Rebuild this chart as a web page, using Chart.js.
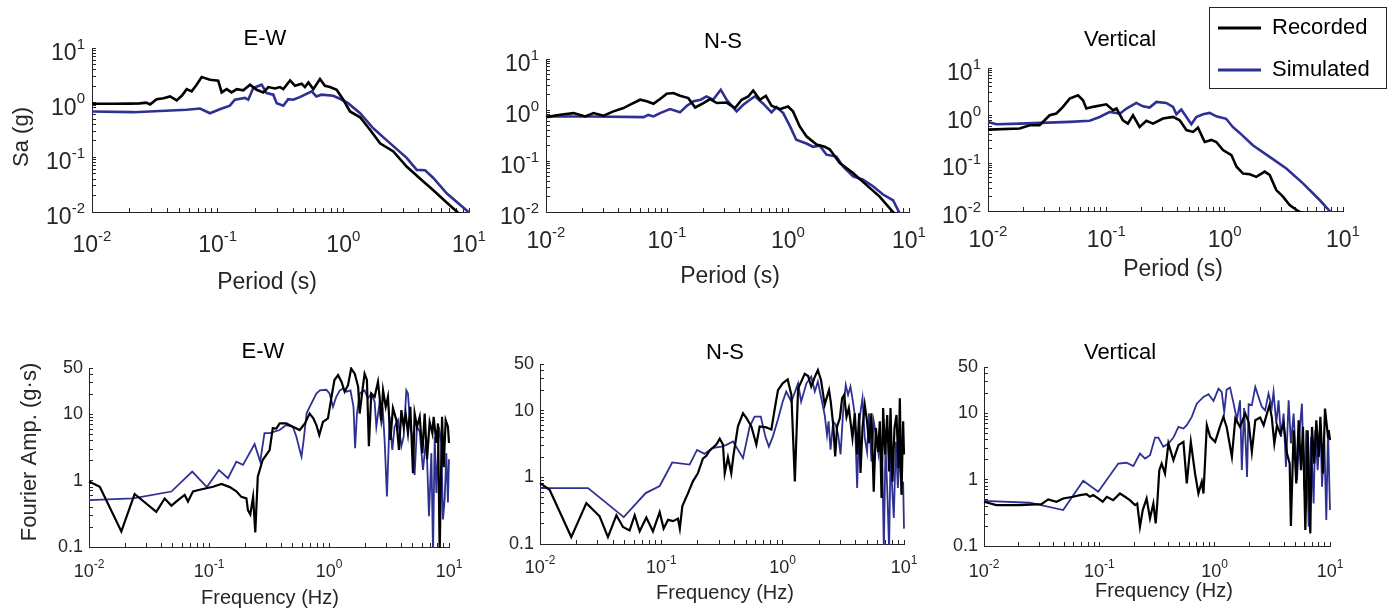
<!DOCTYPE html>
<html>
<head>
<meta charset="utf-8">
<script src="https://cdn.jsdelivr.net/npm/chart.js@4.4.0/dist/chart.umd.min.js"></script>
<style>
  html, body { margin: 0; padding: 0; background: #fff; }
  #wrap { position: relative; width: 1392px; height: 613px; }
  #wrap canvas { position: absolute; left: 0; top: 0; }
</style>
</head>
<body>
<div id="wrap">
  <canvas id="saEw" width="1392" height="613"></canvas>
  <canvas id="saNs" width="1392" height="613"></canvas>
  <canvas id="saVt" width="1392" height="613"></canvas>
  <canvas id="faEw" width="1392" height="613"></canvas>
  <canvas id="faNs" width="1392" height="613"></canvas>
  <canvas id="faVt" width="1392" height="613"></canvas>
</div>
<script>
// axis ticks
const decadeTicks = [0.01, 0.1, 1, 10];
const decadeBase = '10';
const decadeExps = ['-2', '-1', '0', '1'];
const ampTicks = [0.1, 1, 10, 50];
const ampLabels = ['0.1', '1', '10', '50'];
const seriesLabels = ['Recorded', 'Simulated'];

// response spectra: [period (s), Sa (g)]
const saEwRecorded = [[0.01,0.955],[0.015,0.955],[0.02,0.96],[0.024,0.97],[0.027,1.0],[0.029,0.93],[0.0327,1.16],[0.037,1.2],[0.0418,1.3],[0.0472,1.1],[0.052,1.35],[0.0567,1.77],[0.0621,1.61],[0.068,2.13],[0.0746,2.94],[0.0869,2.63],[0.101,2.52],[0.1076,1.54],[0.118,1.77],[0.129,1.54],[0.142,1.77],[0.16,1.68],[0.181,2.13],[0.204,1.72],[0.231,1.54],[0.253,1.93],[0.286,1.82],[0.313,1.93],[0.333,1.77],[0.377,2.55],[0.412,2.04],[0.466,2.22],[0.495,1.93],[0.527,2.35],[0.577,1.77],[0.652,2.7],[0.714,2.04],[0.783,1.93],[0.885,1.72],[1.0,1.13],[1.13,0.69],[1.36,0.54],[1.63,0.32],[1.96,0.18],[2.5,0.128],[3.19,0.068],[4.07,0.041],[5.2,0.025],[6.64,0.0149],[8.07,0.01],[9.0,0.008]];
const saEwSimulated = [[0.01,0.69],[0.0213,0.67],[0.0567,0.74],[0.0723,0.78],[0.0869,0.64],[0.104,0.76],[0.125,0.88],[0.137,1.13],[0.165,1.22],[0.175,1.13],[0.192,1.85],[0.224,2.13],[0.245,1.5],[0.277,1.4],[0.295,0.98],[0.333,0.88],[0.364,1.16],[0.4,1.13],[0.45,1.26],[0.51,1.45],[0.56,1.61],[0.61,1.3],[0.67,1.4],[0.83,1.34],[0.94,1.18],[1.09,0.98],[1.36,0.64],[1.73,0.34],[2.36,0.18],[3.19,0.098],[3.84,0.059],[4.47,0.058],[5.2,0.042],[6.64,0.022],[9.9,0.01]];
const saNsRecorded = [[0.01,0.724],[0.0131,0.805],[0.0169,0.869],[0.0211,0.748],[0.0247,0.869],[0.0299,0.774],[0.0361,0.94],[0.0437,1.09],[0.0496,1.27],[0.06,1.59],[0.068,1.48],[0.0773,1.33],[0.0877,1.64],[0.0996,2.08],[0.113,2.15],[0.128,1.9],[0.15,1.71],[0.171,1.12],[0.2,1.37],[0.227,1.64],[0.258,1.37],[0.311,1.4],[0.365,1.09],[0.414,1.59],[0.47,1.85],[0.516,2.41],[0.586,1.59],[0.656,1.9],[0.731,1.21],[0.857,1.04],[1.0,1.17],[1.1,0.94],[1.25,0.476],[1.42,0.305],[1.72,0.21],[2.01,0.19],[2.21,0.17],[2.68,0.091],[3.45,0.058],[4.44,0.034],[5.72,0.02],[7.38,0.01],[8.0,0.0085]];
const saNsSimulated = [[0.01,0.748],[0.0247,0.748],[0.0643,0.724],[0.07,0.8],[0.0773,0.748],[0.0877,0.869],[0.106,1.04],[0.128,0.9],[0.146,1.21],[0.166,1.48],[0.19,1.59],[0.212,1.85],[0.24,1.59],[0.278,2.5],[0.311,1.59],[0.376,0.94],[0.427,1.27],[0.485,1.59],[0.533,1.85],[0.624,1.33],[0.731,0.9],[0.804,1.14],[0.913,0.869],[1.04,0.476],[1.17,0.26],[1.42,0.22],[1.61,0.19],[1.83,0.2],[2.08,0.133],[2.51,0.122],[2.85,0.078],[3.45,0.05],[4.17,0.043],[5.04,0.032],[6.1,0.022],[7.38,0.017],[8.27,0.01],[9.0,0.008]];
const saVtRecorded = [[0.01,0.51],[0.0185,0.537],[0.0225,0.63],[0.0273,0.63],[0.0332,1.02],[0.0378,1.11],[0.043,1.53],[0.049,2.28],[0.0576,2.68],[0.0635,2.1],[0.0678,1.41],[0.0772,1.53],[0.0907,1.65],[0.1,1.73],[0.114,1.3],[0.122,1.41],[0.138,0.8],[0.152,0.68],[0.168,1.02],[0.191,0.58],[0.218,0.78],[0.248,0.68],[0.301,0.87],[0.366,0.94],[0.417,0.8],[0.475,0.5],[0.54,0.457],[0.595,0.56],[0.678,0.28],[0.771,0.31],[0.85,0.28],[0.968,0.19],[1.14,0.149],[1.26,0.085],[1.43,0.061],[1.63,0.059],[1.85,0.052],[2.18,0.067],[2.4,0.057],[2.73,0.0275],[3.11,0.02],[3.54,0.0133],[4.17,0.01],[4.5,0.009]];
const saVtSimulated = [[0.01,0.74],[0.0118,0.66],[0.0185,0.68],[0.049,0.74],[0.0723,0.78],[0.0879,0.94],[0.107,1.2],[0.13,1.1],[0.148,1.41],[0.179,1.85],[0.204,1.57],[0.232,1.48],[0.265,1.94],[0.321,1.85],[0.366,1.53],[0.391,1.07],[0.43,1.34],[0.475,0.94],[0.523,0.66],[0.576,0.94],[0.656,1.07],[0.747,1.14],[0.85,0.97],[1.03,0.86],[1.17,0.58],[1.34,0.435],[1.73,0.24],[2.4,0.137],[3.32,0.078],[4.59,0.038],[6.35,0.017],[7.71,0.01],[8.5,0.0085]];

// Fourier amplitude spectra: [frequency (Hz), amplitude (g·s)]
const faEwRecorded = [[0.01,0.97],[0.0123,0.81],[0.0186,0.172],[0.024,0.63],[0.0364,0.34],[0.0427,0.54],[0.0486,0.42],[0.0552,0.51],[0.0627,0.61],[0.0668,0.485],[0.0736,0.69],[0.0836,0.73],[0.095,0.77],[0.108,0.81],[0.127,0.89],[0.149,0.8],[0.169,0.69],[0.186,0.57],[0.205,0.54],[0.211,0.36],[0.221,0.31],[0.233,0.57],[0.243,0.166],[0.255,1.15],[0.28,2.05],[0.32,2.9],[0.34,6.2],[0.364,6.1],[0.388,7.3],[0.44,7.3],[0.5,6.5],[0.57,5.8],[0.63,7.3],[0.69,10.3],[0.74,8.7],[0.785,6.9],[0.83,4.9],[0.89,7.7],[0.98,8.7],[1.05,18.4],[1.11,33],[1.19,39],[1.27,31],[1.35,22],[1.44,27.5],[1.53,49],[1.64,41],[1.75,26],[1.8,10.3],[1.9,23],[1.98,41],[2.07,33],[2.15,3.3],[2.25,20.6],[2.4,18.4],[2.56,31],[2.64,18.4],[2.73,8.2],[2.82,23],[2.97,13],[3.1,18.4],[3.25,4.1],[3.41,12.4],[3.64,8.2],[3.83,2.9],[4.01,11.6],[4.19,6.5],[4.35,10.3],[4.55,5.2],[4.76,13],[5.01,1.3],[5.17,10.3],[5.41,6.5],[5.7,9.2],[6.0,2.6],[6.27,10.3],[6.56,2.1],[6.9,7.7],[7.27,5.2],[7.45,9.2],[7.85,3.7],[8.1,7.3],[8.36,0.08],[8.75,9.2],[9.03,1.6],[9.38,8.2],[9.8,6.5],[10,3.7]];
const faEwSimulated = [[0.01,0.51],[0.0233,0.54],[0.0486,0.686],[0.0725,1.37],[0.096,0.8],[0.121,1.45],[0.144,1.09],[0.169,1.94],[0.192,1.73],[0.24,3.56],[0.267,1.94],[0.29,5.2],[0.32,5.2],[0.388,5.8],[0.44,6.9],[0.5,6.5],[0.535,4.6],[0.57,2.9],[0.59,2.3],[0.615,4.1],[0.65,10.3],[0.69,13],[0.785,20.6],[0.84,23],[0.95,23.5],[1.01,20.6],[1.08,13],[1.15,18.4],[1.23,23],[1.31,24.5],[1.4,22],[1.51,23],[1.6,13],[1.65,3.1],[1.71,10.3],[1.8,20.6],[1.98,23],[2.11,17.4],[2.25,20.6],[2.4,15.5],[2.48,6.5],[2.61,13],[2.73,7.3],[2.82,10.3],[2.91,3.9],[3.04,0.58],[3.2,9.2],[3.37,2.9],[3.52,6.5],[3.76,8.2],[4.01,3.3],[4.19,4.6],[4.41,23],[4.55,20.6],[4.76,6.5],[4.95,4.6],[5.17,1.22],[5.41,6.5],[5.7,5.5],[6.07,1.45],[6.47,4.6],[6.81,0.29],[7.13,2.6],[7.36,0.08],[7.6,4.6],[7.85,0.65],[8.26,6.5],[8.63,3.7],[8.91,0.26],[9.2,0.52],[9.5,2.6],[9.8,0.47],[10,2.1]];
const faNsRecorded = [[0.01,0.82],[0.012,0.65],[0.0181,0.127],[0.0241,0.41],[0.031,0.26],[0.0363,0.127],[0.0426,0.27],[0.0483,0.18],[0.0548,0.16],[0.0603,0.27],[0.0663,0.155],[0.0752,0.25],[0.0853,0.155],[0.0969,0.3],[0.1045,0.17],[0.1135,0.23],[0.125,0.22],[0.137,0.24],[0.142,0.17],[0.149,0.37],[0.166,0.58],[0.182,0.87],[0.2,1.15],[0.22,1.9],[0.235,2.1],[0.25,2.5],[0.284,3.1],[0.303,3.8],[0.322,3.1],[0.333,1.15],[0.354,2.0],[0.377,1.15],[0.394,2.2],[0.428,5.8],[0.471,9.1],[0.502,7.8],[0.552,5.8],[0.607,3.1],[0.646,5.8],[0.733,5.6],[0.807,5.2],[0.859,10.5],[0.915,20.3],[1.0,25.7],[1.1,29.4],[1.18,17.2],[1.26,0.87],[1.34,21.5],[1.42,27],[1.52,35.5],[1.62,33],[1.72,23],[1.84,32],[1.95,40.6],[2.07,28.8],[2.22,12.2],[2.32,16.2],[2.41,20.4],[2.49,13.6],[2.61,6.1],[2.71,2.05],[2.81,5.8],[2.96,7.7],[3.09,15.3],[3.21,17.2],[3.36,8.1],[3.51,10.9],[3.62,6.9],[3.76,3.9],[3.93,9.1],[4.11,2.2],[4.27,9.1],[4.38,1.16],[4.55,5.5],[4.75,12.2],[4.96,6.9],[5.15,3.25],[5.39,9.1],[5.63,0.61],[5.86,5.5],[6.12,2.4],[6.32,6.9],[6.53,0.49],[6.73,10.9],[7.0,2.2],[7.27,8.6],[7.54,1.22],[7.74,10.9],[8.04,0.86],[8.35,5.5],[8.67,8.6],[9.01,1.37],[9.24,15.3],[9.53,0.55],[9.84,6.9],[10,2.2]];
const faNsSimulated = [[0.01,0.69],[0.0249,0.69],[0.049,0.253],[0.0743,0.58],[0.0969,0.74],[0.123,1.67],[0.171,1.55],[0.197,2.58],[0.227,2.25],[0.263,2.73],[0.312,2.89],[0.344,3.06],[0.39,3.44],[0.471,1.94],[0.535,5.77],[0.587,8.14],[0.66,8.14],[0.72,4.08],[0.77,2.89],[0.83,4.08],[0.915,7.4],[1.0,13.6],[1.07,19.3],[1.18,13.6],[1.34,25.7],[1.42,13.6],[1.57,25.7],[1.72,32.3],[1.84,19.3],[1.95,27.2],[2.22,8.6],[2.32,4.3],[2.39,6.9],[2.48,2.6],[2.61,6.9],[2.74,6.1],[2.87,4.3],[3.0,2.2],[3.15,9.7],[3.31,24.3],[3.46,17.2],[3.62,22.9],[3.76,15.3],[3.93,8.6],[4.11,0.69],[4.27,6.9],[4.55,15.3],[4.75,3.9],[4.96,2.4],[5.15,9.1],[5.39,1.73],[5.63,6.9],[5.93,3.9],[6.17,2.2],[6.4,3.9],[6.65,1.22],[6.82,0.08],[7.04,3.1],[7.27,0.69],[7.54,0.08],[7.74,2.2],[8.04,0.55],[8.24,0.245],[8.57,3.4],[8.9,0.69],[9.24,2.2],[9.6,0.55],[9.84,0.86],[10,0.17]];
const faVtRecorded = [[0.01,0.465],[0.0128,0.414],[0.0204,0.414],[0.0315,0.428],[0.036,0.504],[0.0425,0.465],[0.0486,0.521],[0.0593,0.552],[0.0678,0.585],[0.0775,0.605],[0.0828,0.552],[0.0885,0.585],[0.0978,0.521],[0.107,0.465],[0.116,0.552],[0.132,0.492],[0.151,0.619],[0.167,0.552],[0.184,0.492],[0.204,0.414],[0.213,0.438],[0.225,0.195],[0.238,0.348],[0.257,0.521],[0.275,0.261],[0.294,0.438],[0.308,0.219],[0.318,0.438],[0.331,1.39],[0.347,1.75],[0.371,1.24],[0.397,3.51],[0.439,1.97],[0.485,3.31],[0.536,3.72],[0.573,0.877],[0.621,3.72],[0.676,1.24],[0.723,0.619],[0.773,0.929],[0.8,0.619],[0.855,6.62],[0.914,4.42],[1.01,3.72],[1.11,6.25],[1.19,8.84],[1.27,6.25],[1.41,2.21],[1.51,8.34],[1.66,6.25],[1.84,9.93],[1.97,7.43],[2.1,2.63],[2.25,7.87],[2.48,8.63],[2.66,6.62],[2.84,9.93],[2.99,13.3],[3.13,8.63],[3.29,3.51],[3.47,6.62],[3.7,4.95],[3.96,7.01],[4.24,2.48],[4.47,1.75],[4.58,0.2],[4.84,5.57],[5.1,0.877],[5.35,7.87],[5.6,1.39],[5.83,6.25],[6.11,0.174],[6.4,5.57],[6.75,0.155],[6.98,6.25],[7.31,1.75],[7.61,7.87],[7.98,2.21],[8.25,8.84],[8.7,1.24],[9.05,11.8],[9.61,4.42],[9.74,5.57],[10,3.94]];
const faVtSimulated = [[0.01,0.48],[0.0249,0.449],[0.0486,0.348],[0.0725,0.96],[0.0978,0.656],[0.146,1.75],[0.172,1.8],[0.197,1.6],[0.225,2.48],[0.249,2.08],[0.275,2.34],[0.304,4.32],[0.325,4.32],[0.359,3.13],[0.397,3.51],[0.439,4.32],[0.485,6.25],[0.536,5.9],[0.573,6.62],[0.633,8.84],[0.699,14],[0.8,17.7],[0.884,19.4],[0.977,15.4],[1.08,23.6],[1.15,21],[1.21,10.5],[1.27,22.8],[1.36,24.5],[1.46,14],[1.56,8],[1.66,15.7],[1.72,1.4],[1.8,12],[1.91,1.1],[1.97,13.7],[2.1,13.3],[2.25,25],[2.4,17.7],[2.57,12.5],[2.74,11.1],[2.93,19.9],[3.13,12.5],[3.24,21],[3.42,7],[3.58,15.7],[3.76,4.42],[3.96,9.93],[4.15,1.56],[4.38,15.7],[4.58,3.51],[4.84,9.93],[5.17,0.98],[5.46,5.57],[5.71,14],[5.99,0.7],[6.23,5.57],[6.53,0.195],[6.84,4.42],[7.21,0.438],[7.46,5.57],[7.82,1.39],[8.25,7.01],[8.53,0.78],[8.93,3.94],[9.29,0.246],[9.61,5.57],[10,0.35]];

const FONT = "'Liberation Sans', Arial, sans-serif";
const INK = '#262626';
const REC_COLOR = '#000000';
const SIM_COLOR = '#2e3192';
const Y_AXIS_W = 80;
const X_AXIS_H = 60;

function toXY(pairs) {
  return pairs.map(p => ({ x: p[0], y: p[1] }));
}

function labelFor(values, labels) {
  return v => {
    const i = values.findIndex(t => Math.abs(v - t) < t * 1e-6);
    return i >= 0 ? labels[i] : '';
  };
}
const noLabel = () => '';

// drop the 1.5x ticks so only 1..9 per decade remain (minor ticks like MATLAB)
function keepIntegerMantissa(scale) {
  scale.ticks = scale.ticks.filter(t => {
    const m = t.value / Math.pow(10, Math.floor(Math.log10(t.value) + 1e-9));
    return Math.abs(m - Math.round(m)) < 1e-6;
  });
}

// "10" with a raised exponent, placed on the scale's own pixel for the value
function drawPower(ctx, exp, x, baseline, size, align) {
  const sup = Math.round(size * 0.65);
  ctx.font = size + 'px ' + FONT;
  const wb = ctx.measureText(decadeBase).width;
  ctx.font = sup + 'px ' + FONT;
  const we = ctx.measureText(exp).width;
  const x0 = align === 'center' ? x - (wb + we) / 2 : x - wb - we;
  ctx.textAlign = 'left';
  ctx.textBaseline = 'alphabetic';
  ctx.font = size + 'px ' + FONT;
  ctx.fillText(decadeBase, x0, baseline);
  ctx.font = sup + 'px ' + FONT;
  ctx.fillText(exp, x0 + wb, baseline - size * 0.5);
}

// titles, axis labels, power-of-ten tick labels and legend
const panelText = {
  id: 'panelText',
  afterDraw(chart, args, opts) {
    const ctx = chart.ctx;
    const area = chart.chartArea;
    ctx.save();
    ctx.fillStyle = INK;
    if (opts.xPow) {
      decadeTicks.forEach((v, i) => {
        drawPower(ctx, decadeExps[i], chart.scales.x.getPixelForValue(v),
          area.bottom + opts.xPow.base, opts.xPow.size, 'center');
      });
    }
    if (opts.yPow) {
      decadeTicks.forEach((v, i) => {
        drawPower(ctx, decadeExps[i], area.left - 7,
          chart.scales.y.getPixelForValue(v) + opts.yPow.base, opts.yPow.size, 'right');
      });
    }
    ctx.restore();
    (opts.items || []).forEach(it => {
      ctx.save();
      ctx.font = it.size + 'px ' + FONT;
      ctx.fillStyle = it.color || INK;
      ctx.textAlign = 'center';
      ctx.textBaseline = 'middle';
      ctx.translate(it.x, it.y);
      if (it.rotate) ctx.rotate(-Math.PI / 2);
      ctx.fillText(it.text, 0, 0);
      ctx.restore();
    });
    if (opts.legend) {
      const lg = opts.legend;
      ctx.save();
      ctx.fillStyle = '#fff';
      ctx.fillRect(lg.x, lg.y, lg.w, lg.h);
      ctx.strokeStyle = INK;
      ctx.lineWidth = 1;
      ctx.strokeRect(lg.x + 0.5, lg.y + 0.5, lg.w, lg.h);
      chart.data.datasets.forEach((ds, i) => {
        const y = lg.rows[i];
        ctx.strokeStyle = ds.borderColor;
        ctx.lineWidth = 3;
        ctx.beginPath();
        ctx.moveTo(lg.x + 9, y);
        ctx.lineTo(lg.x + 52, y);
        ctx.stroke();
        ctx.fillStyle = '#000';
        ctx.font = lg.size + 'px ' + FONT;
        ctx.textAlign = 'left';
        ctx.textBaseline = 'middle';
        ctx.fillText(ds.label, lg.x + 63, y);
      });
      ctx.restore();
    }
  }
};

function makePanel(id, box, rec, sim, cfg) {
  new Chart(document.getElementById(id), {
    type: 'line',
    data: {
      datasets: [
        { label: seriesLabels[0], data: toXY(rec), borderColor: REC_COLOR, borderWidth: cfg.recWidth,
          pointRadius: 0, tension: 0, clip: 1 },
        { label: seriesLabels[1], data: toXY(sim), borderColor: SIM_COLOR, borderWidth: cfg.simWidth,
          pointRadius: 0, tension: 0, clip: 1 }
      ]
    },
    options: {
      responsive: false,
      animation: false,
      devicePixelRatio: 1,
      events: [],
      layout: {
        padding: {
          left: box.left - Y_AXIS_W,
          top: box.top,
          right: 1392 - box.right,
          bottom: 613 - box.bottom - X_AXIS_H
        }
      },
      scales: {
        x: {
          type: 'logarithmic',
          min: 0.01, max: 10,
          afterBuildTicks: keepIntegerMantissa,
          afterFit: s => { s.height = X_AXIS_H; },
          grid: { drawOnChartArea: false, drawTicks: true, tickLength: -4, color: INK },
          border: { display: true, color: INK, width: 1 },
          ticks: { autoSkip: false, maxRotation: 0, minRotation: 0, callback: noLabel }
        },
        y: {
          type: 'logarithmic',
          min: cfg.yMin, max: cfg.yMax,
          afterBuildTicks: keepIntegerMantissa,
          afterFit: s => { s.width = Y_AXIS_W; },
          grid: { drawOnChartArea: false, drawTicks: true, tickLength: -4, color: INK },
          border: { display: true, color: INK, width: 1 },
          ticks: {
            autoSkip: false,
            padding: 10, color: INK,
            font: { family: FONT, size: cfg.tickSize },
            callback: cfg.yPow ? noLabel : labelFor(ampTicks, ampLabels)
          }
        }
      },
      plugins: {
        legend: { display: false },
        tooltip: { enabled: false },
        panelText: {
          items: cfg.texts,
          legend: cfg.legend || null,
          xPow: { base: cfg.xBase, size: cfg.tickSize },
          yPow: cfg.yPow ? { base: 12, size: cfg.tickSize } : null
        }
      }
    },
    plugins: [panelText]
  });
}

const saRow = { yMin: 0.01, yMax: 10, yPow: true, tickSize: 23, recWidth: 2.6, simWidth: 2.6 };
const faRow = { yMin: 0.1, yMax: 50, yPow: false, tickSize: 18, recWidth: 2.2, simWidth: 1.8 };

makePanel('saEw', { left: 92, right: 469, top: 48, bottom: 212 }, saEwRecorded, saEwSimulated,
  Object.assign({}, saRow, { xBase: 40, texts: [
    { text: 'E-W', x: 265, y: 39, size: 22, color: '#000' },
    { text: 'Period (s)', x: 267, y: 283, size: 23 },
    { text: 'Sa (g)', x: 22, y: 137, size: 22, rotate: true }
  ] }));

makePanel('saNs', { left: 546, right: 909, top: 59, bottom: 212 }, saNsRecorded, saNsSimulated,
  Object.assign({}, saRow, { xBase: 36, texts: [
    { text: 'N-S', x: 723, y: 42, size: 22, color: '#000' },
    { text: 'Period (s)', x: 730, y: 277, size: 23 }
  ] }));

makePanel('saVt', { left: 988, right: 1343, top: 68, bottom: 211 }, saVtRecorded, saVtSimulated,
  Object.assign({}, saRow, { xBase: 36, texts: [
    { text: 'Vertical', x: 1120, y: 40, size: 22, color: '#000' },
    { text: 'Period (s)', x: 1173, y: 270, size: 23 }
  ], legend: { x: 1209, y: 7, w: 177, h: 81, rows: [28, 70], size: 22 } }));

makePanel('faEw', { left: 89, right: 449, top: 368, bottom: 547 }, faEwRecorded, faEwSimulated,
  Object.assign({}, faRow, { xBase: 30, texts: [
    { text: 'E-W', x: 263, y: 352, size: 22, color: '#000' },
    { text: 'Frequency (Hz)', x: 270, y: 598, size: 20 },
    { text: 'Fourier Amp. (g·s)', x: 30, y: 452, size: 22, rotate: true }
  ] }));

makePanel('faNs', { left: 540, right: 904, top: 364, bottom: 544 }, faNsRecorded, faNsSimulated,
  Object.assign({}, faRow, { xBase: 29, texts: [
    { text: 'N-S', x: 725, y: 353, size: 22, color: '#000' },
    { text: 'Frequency (Hz)', x: 725, y: 593, size: 20 }
  ] }));

makePanel('faVt', { left: 984, right: 1330, top: 367, bottom: 546 }, faVtRecorded, faVtSimulated,
  Object.assign({}, faRow, { xBase: 31, texts: [
    { text: 'Vertical', x: 1120, y: 353, size: 22, color: '#000' },
    { text: 'Frequency (Hz)', x: 1164, y: 591, size: 20 }
  ] }));
</script>
</body>
</html>
